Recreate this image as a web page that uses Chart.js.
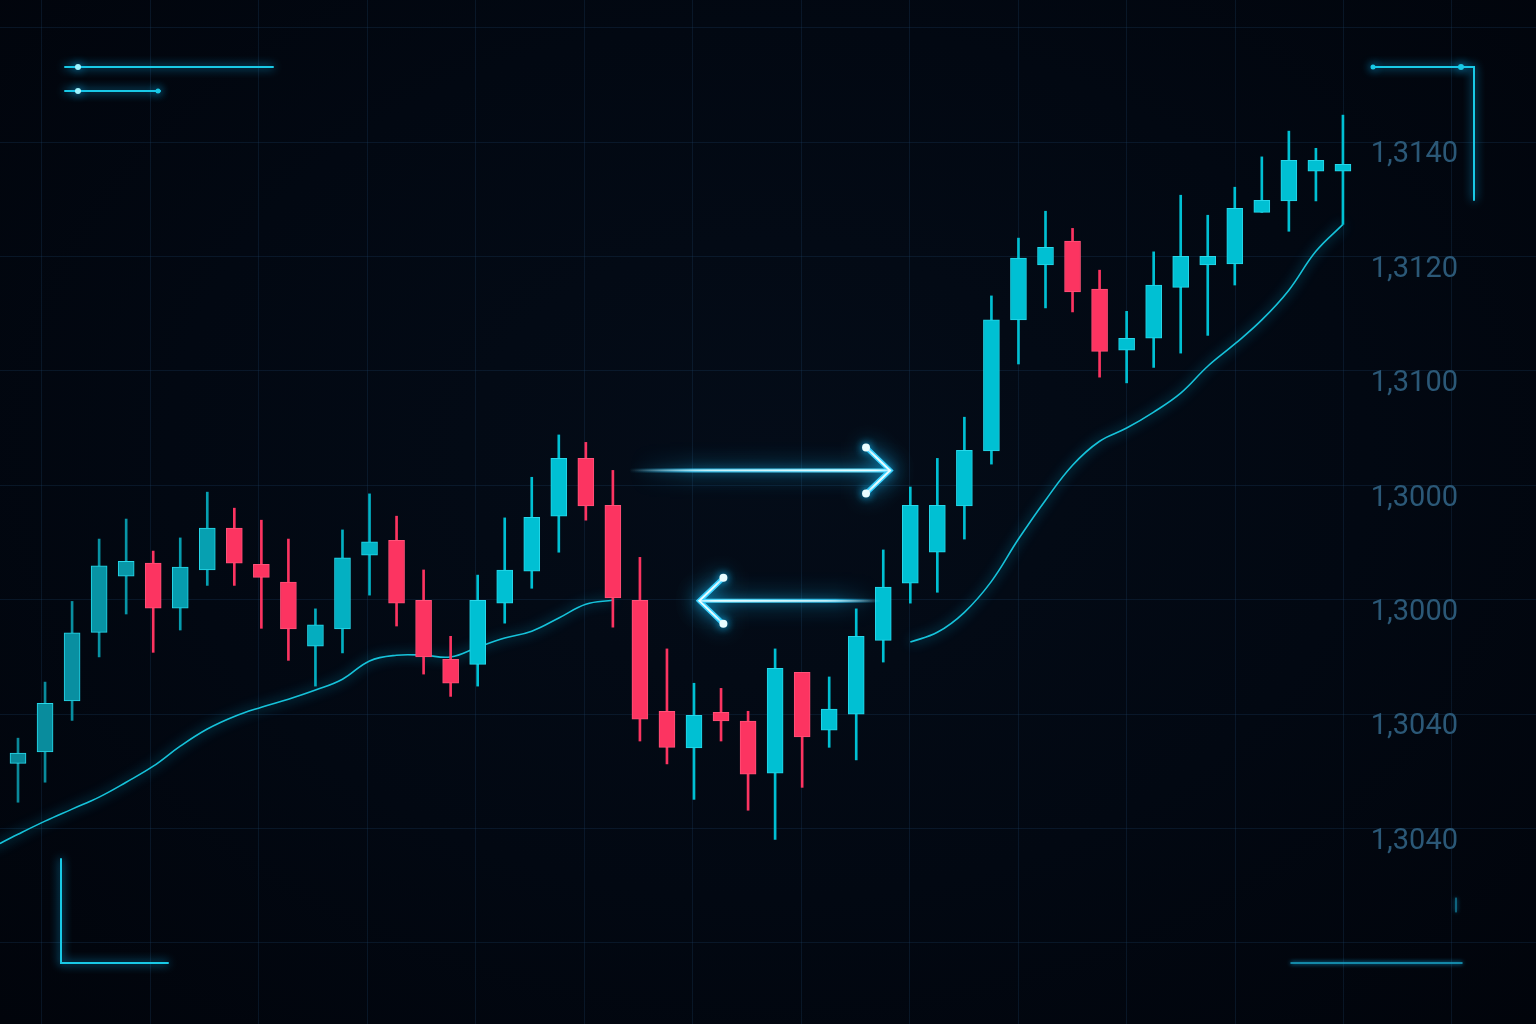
<!DOCTYPE html>
<html>
<head>
<meta charset="utf-8">
<title>Candles</title>
<script src="https://cdn.jsdelivr.net/npm/chart.js@4.4.1/dist/chart.umd.min.js"></script>
<style>
  html, body { margin: 0; padding: 0; }
  body {
    width: 1536px; height: 1024px; overflow: hidden;
    background: radial-gradient(ellipse at 50% 45%, #040c18 0%, #020812 55%, #01040b 100%);
  }
  #wrap { position: relative; width: 1536px; height: 1024px; }
</style>
</head>
<body>
<div id="wrap"><canvas id="candles"></canvas></div>
<script>
// candle data (one entry per bar, left to right)
const opens = [
  1.30314, 1.30334, 1.30423, 1.30543, 1.30641, 1.30664, 1.30585, 1.30652, 1.30725, 1.30662,
  1.30631, 1.30519, 1.30549, 1.30678, 1.30704, 1.30599, 1.30496, 1.30487, 1.30594, 1.30650,
  1.30746, 1.30847, 1.30765, 1.30599, 1.30405, 1.30341, 1.30403, 1.30388, 1.30297, 1.30473,
  1.30372, 1.30400, 1.30529, 1.30629, 1.30683, 1.30764, 1.30860, 1.31089, 1.31185, 1.31227,
  1.31143, 1.31036, 1.31057, 1.31146, 1.31185, 1.31187, 1.31277, 1.31297, 1.31349, 1.31349
];
const highs = [
  1.30358, 1.30456, 1.30597, 1.30706, 1.30741, 1.30685, 1.30708, 1.30788, 1.30760, 1.30739,
  1.30706, 1.30584, 1.30722, 1.30785, 1.30746, 1.30652, 1.30536, 1.30643, 1.30743, 1.30814,
  1.30888, 1.30875, 1.30826, 1.30674, 1.30514, 1.30454, 1.30445, 1.30405, 1.30514, 1.30473,
  1.30465, 1.30584, 1.30687, 1.30797, 1.30847, 1.30919, 1.31131, 1.31232, 1.31279, 1.31249,
  1.31176, 1.31104, 1.31208, 1.31307, 1.31272, 1.31321, 1.31374, 1.31419, 1.31389, 1.31447
];
const lows = [
  1.30246, 1.30281, 1.30389, 1.30500, 1.30575, 1.30508, 1.30547, 1.30625, 1.30625, 1.30550,
  1.30494, 1.30449, 1.30507, 1.30608, 1.30554, 1.30470, 1.30431, 1.30449, 1.30559, 1.30620,
  1.30683, 1.30739, 1.30552, 1.30353, 1.30313, 1.30251, 1.30353, 1.30232, 1.30181, 1.30272,
  1.30342, 1.30320, 1.30491, 1.30594, 1.30613, 1.30706, 1.30837, 1.31012, 1.31110, 1.31103,
  1.30989, 1.30979, 1.31006, 1.31031, 1.31062, 1.31150, 1.31277, 1.31244, 1.31297, 1.31256
];
const closes = [
  1.30332, 1.30419, 1.30542, 1.30659, 1.30667, 1.30585, 1.30657, 1.30725, 1.30664, 1.30639,
  1.30549, 1.30556, 1.30673, 1.30701, 1.30594, 1.30500, 1.30454, 1.30599, 1.30652, 1.30744,
  1.30847, 1.30764, 1.30603, 1.30391, 1.30342, 1.30398, 1.30388, 1.30295, 1.30480, 1.30360,
  1.30409, 1.30536, 1.30622, 1.30765, 1.30765, 1.30861, 1.31089, 1.31197, 1.31216, 1.31138,
  1.31034, 1.31057, 1.31150, 1.31200, 1.31200, 1.31284, 1.31298, 1.31368, 1.31368, 1.31361
];

// moving average, starts one bar before the first candle; null = hidden behind the arrows
const maStart = -1;
const maValues = [
  1.30166, 1.30190, 1.30213, 1.30234, 1.30255, 1.30281, 1.30309, 1.30344, 1.30374, 1.30396,
  1.30412, 1.30426, 1.30442, 1.30461, 1.30493, 1.30503, 1.30503, 1.30500, 1.30517, 1.30533,
  1.30545, 1.30568, 1.30592, 1.30599,
  null, null, null, null, null, null, null, null, null, null,
  1.30526, 1.30543, 1.30578, 1.30632, 1.30706, 1.30774, 1.30835, 1.30877, 1.30900, 1.30928,
  1.30961, 1.31008, 1.31047, 1.31089, 1.31141, 1.31209, 1.31256
];

// price axis (labels as printed on the picture)
const priceTicks  = [1.3160, 1.3140, 1.3120, 1.3100, 1.3080, 1.3060, 1.3040, 1.3020, 1.3000];
const priceLabels = ['', '1,3140', '1,3120', '1,3100', '1,3000', '1,3000', '1,3040', '1,3040', ''];

// the two neon arrows: bar index from -> to, at a price level
const arrows = [
  { from: 22.6, to: 32.25, price: 1.30826 },
  { from: 31.9, to: 25.2, price: 1.30598 }
];

const RED = '#fc3461';
const RED_EDGE = '#ff5279';
const TEAL_EDGE = '#27d8ea';

function tealAt(i) {
  const t = Math.min(1, i / 17);
  const r = Math.round(10 + (0 - 10) * t);
  const g = Math.round(137 + (192 - 137) * t);
  const b = Math.round(154 + (211 - 154) * t);
  return `rgb(${r},${g},${b})`;
}
const isUp = i => closes[i] >= opens[i];
const candleColor = c => isUp(c.dataIndex) ? tealAt(c.dataIndex) : RED;

const bodies = opens.map((o, i) => ({ x: i, y: [o, closes[i]] }));
const wicks = lows.map((l, i) => ({ x: i, y: [l, highs[i]] }));
const maPoints = maValues.map((v, i) => ({ x: maStart + i, y: v }));

const gridColor = 'rgba(30,70,110,0.26)';

// keep axes from eating into the plot: the chart area is the whole canvas
const noSpace = s => {
  if (s.isHorizontal()) s.height = 0; else s.width = 0;
  s.paddingTop = s.paddingBottom = s.paddingLeft = s.paddingRight = 0;
};

const glowPlugin = {
  id: 'glow',
  beforeDatasetDraw(chart, args) {
    const ds = chart.data.datasets[args.index];
    if (!ds.glow) return;
    chart.ctx.save();
    chart.ctx.shadowColor = ds.glow;
    chart.ctx.shadowBlur = 12;
  },
  afterDatasetDraw(chart, args) {
    if (chart.data.datasets[args.index].glow) chart.ctx.restore();
  }
};

function neonLine(ctx, pts, width, stroke) {
  ctx.beginPath();
  ctx.moveTo(pts[0][0], pts[0][1]);
  for (let k = 1; k < pts.length; k++) ctx.lineTo(pts[k][0], pts[k][1]);
  ctx.lineWidth = width;
  ctx.strokeStyle = stroke;
  ctx.stroke();
}

function dot(ctx, x, y, r, color) {
  ctx.beginPath();
  ctx.arc(x, y, r, 0, Math.PI * 2);
  ctx.fillStyle = color;
  ctx.fill();
}

// arrows drawn through the chart scales, HUD corners in screen pixels
const decorPlugin = {
  id: 'decor',
  afterDatasetsDraw(chart) {
    const { ctx, scales: { x, y } } = chart;
    ctx.save();
    ctx.lineCap = 'round';
    arrows.forEach(a => {
      const x0 = x.getPixelForValue(a.from);
      const x1 = x.getPixelForValue(a.to);
      const py = y.getPixelForValue(a.price);
      const dir = x1 > x0 ? 1 : -1;
      const armX = x1 - dir * 24;
      const g = ctx.createLinearGradient(x0, 0, x1, 0);
      g.addColorStop(0, 'rgba(40,200,255,0)');
      g.addColorStop(0.25, 'rgba(60,210,255,0.8)');
      g.addColorStop(1, 'rgba(120,235,255,1)');
      ctx.shadowColor = '#0fbfff';
      ctx.shadowBlur = 22;
      neonLine(ctx, [[x0, py], [x1, py]], 4, g);
      neonLine(ctx, [[armX, py - 23], [x1, py], [armX, py + 23]], 5, 'rgba(70,215,255,1)');
      const core = ctx.createLinearGradient(x0, 0, x1, 0);
      core.addColorStop(0, 'rgba(220,250,255,0)');
      core.addColorStop(0.3, 'rgba(220,250,255,0.85)');
      core.addColorStop(1, 'rgba(235,253,255,1)');
      ctx.shadowBlur = 8;
      neonLine(ctx, [[x0, py], [x1, py]], 1.6, core);
      neonLine(ctx, [[armX, py - 23], [x1, py], [armX, py + 23]], 2, '#eafdff');
      dot(ctx, armX, py - 23, 4, '#eafdff');
      dot(ctx, armX, py + 23, 4, '#eafdff');
    });

    ctx.shadowColor = '#0fb8ff';
    ctx.shadowBlur = 10;
    const hud = '#19c9e6';
    neonLine(ctx, [[65, 67], [273, 67]], 2, hud);
    neonLine(ctx, [[65, 91], [160, 91]], 2, hud);
    dot(ctx, 78, 67, 3, '#9ff4ff');
    dot(ctx, 78, 91, 3, '#9ff4ff');
    dot(ctx, 158, 91, 2.5, hud);
    neonLine(ctx, [[1372, 67], [1474, 67], [1474, 200]], 2, hud);
    dot(ctx, 1373, 67, 2.5, hud);
    dot(ctx, 1461, 67, 3, hud);
    neonLine(ctx, [[61, 859], [61, 963], [168, 963]], 2, hud);
    ctx.shadowBlur = 4;
    neonLine(ctx, [[1291, 963], [1462, 963]], 1.5, '#1aa6c8');
    neonLine(ctx, [[1456, 898], [1456, 912]], 1, '#1aa6c8');
    ctx.restore();
  }
};

new Chart(document.getElementById('candles'), {
  type: 'bar',
  data: {
    datasets: [{
      type: 'line',
      label: 'MA',
      data: maPoints,
      borderColor: '#16c3da',
      borderWidth: 1.6,
      pointRadius: 0,
      tension: 0.4,
      spanGaps: false,
      glow: 'rgba(10,180,230,0.9)',
      order: 3
    }, {
      label: 'Wicks',
      data: wicks,
      backgroundColor: candleColor,
      barThickness: 2,
      grouped: false,
      order: 2
    }, {
      label: 'Bodies',
      data: bodies,
      backgroundColor: candleColor,
      borderColor: c => isUp(c.dataIndex) ? TEAL_EDGE : RED_EDGE,
      borderWidth: 1,
      borderSkipped: false,
      barThickness: 16,
      grouped: false,
      order: 1
    }]
  },
  options: {
    responsive: true,
    maintainAspectRatio: false,
    animation: false,
    events: [],
    layout: { padding: 0, autoPadding: false },
    plugins: {
      legend: { display: false },
      tooltip: { enabled: false }
    },
    scales: {
      x: {
        type: 'linear',
        display: false,
        offset: false,
        min: -0.666,
        max: 56.14
      },
      xg: {
        type: 'linear',
        position: 'bottom',
        min: -0.34,
        max: 12.73,
        afterBuildTicks: s => {
          s.ticks = [];
          for (let k = 0; k <= 12; k++) s.ticks.push({ value: k });
        },
        afterFit: noSpace,
        grid: { color: gridColor, drawTicks: false },
        border: { display: false },
        ticks: { display: false }
      },
      y: {
        type: 'linear',
        position: 'right',
        min: 1.298584,
        max: 1.316482,
        afterBuildTicks: s => { s.ticks = priceTicks.map(v => ({ value: v })); },
        afterFit: noSpace,
        grid: { color: gridColor, drawTicks: false },
        border: { display: false },
        ticks: {
          mirror: true,
          autoSkip: false,
          padding: -78,
          labelOffset: 13,
          color: '#2b5877',
          font: { family: 'Roboto', size: 29 },
          callback: (v, i) => priceLabels[i]
        }
      }
    }
  },
  plugins: [glowPlugin, decorPlugin]
});
</script>
</body>
</html>
